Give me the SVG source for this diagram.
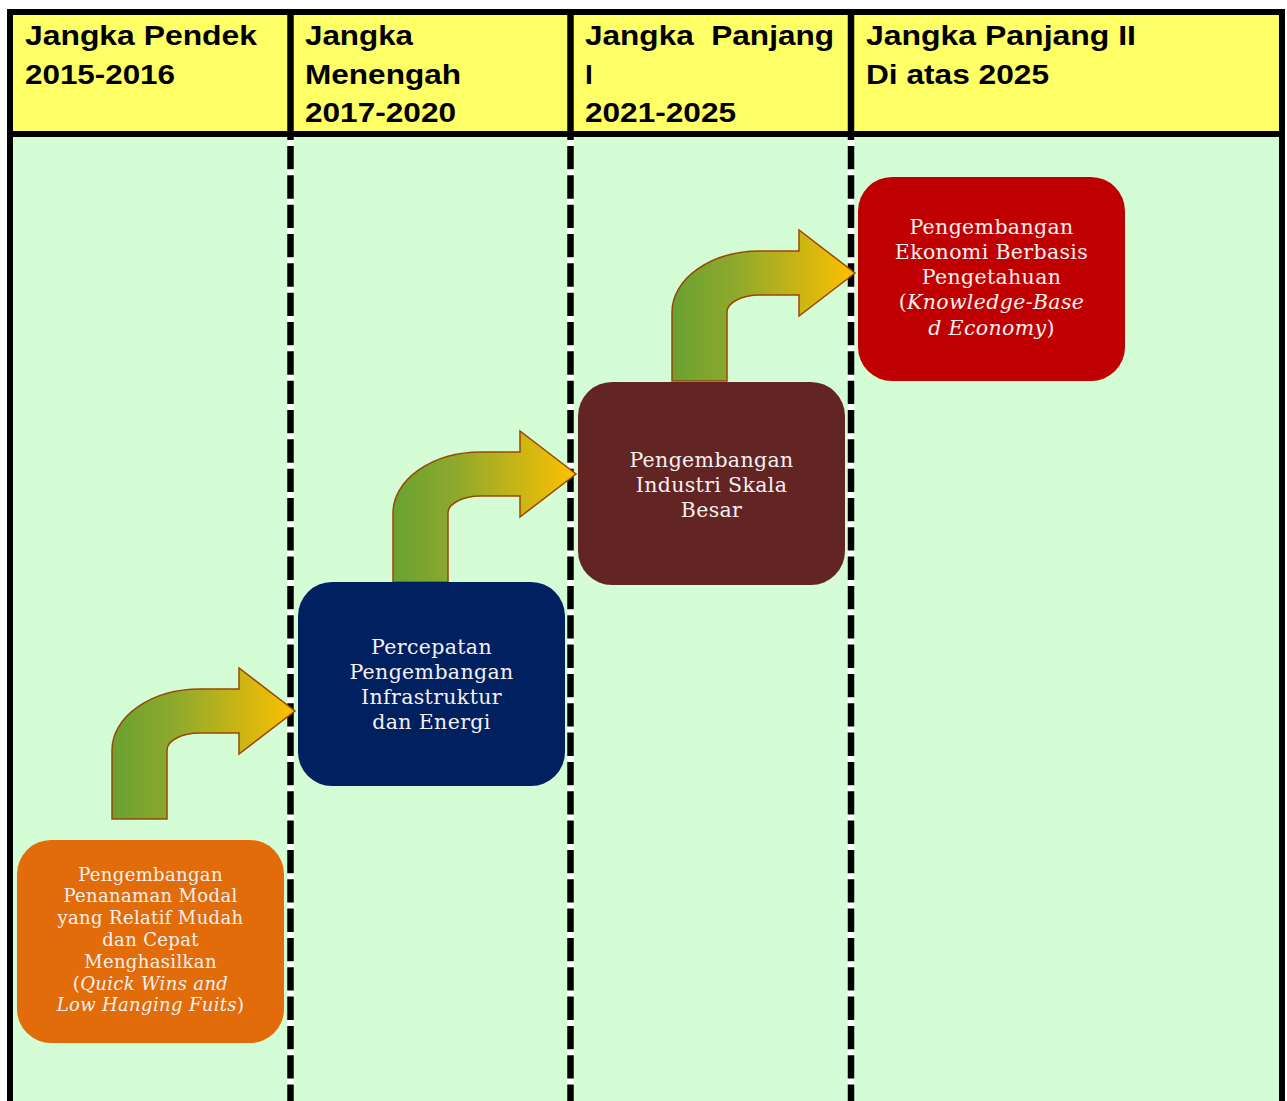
<svg xmlns="http://www.w3.org/2000/svg" width="1287" height="1101" viewBox="0 0 1287 1101">
  <style>
    .hdr { font-family: "Liberation Sans", Arial, sans-serif; font-weight: bold; font-size: 28px; fill: #000000; }
    .box1 { font-family: "DejaVu Serif", "Liberation Serif", serif; font-size: 18px; letter-spacing: 0.35px; fill: #F4F0F0; text-anchor: middle; }
    .box { font-family: "DejaVu Serif", "Liberation Serif", serif; font-size: 20.5px; letter-spacing: 0.35px; fill: #F4F0F0; text-anchor: middle; }
    .it { font-style: italic; }
    .frame { stroke: #000000; stroke-width: 6; fill: none; }
    .divsolid { stroke: #000000; stroke-width: 6.5; }
    .divbg { stroke: #FFFFFF; stroke-width: 6.5; }
    .divdash { stroke: #000000; stroke-width: 6.5; stroke-dasharray: 23.33 6; }
    .arrow { fill: url(#arrowGrad); stroke: #984807; stroke-width: 1.5; stroke-linejoin: miter; }
  </style>
  <defs>
    <linearGradient id="arrowGrad" x1="0" y1="0" x2="1" y2="0">
      <stop offset="0" stop-color="#6AA131"/>
      <stop offset="0.35" stop-color="#8FA92C"/>
      <stop offset="1" stop-color="#FFC000"/>
    </linearGradient>
    <path id="bentArrow" d="M0,151 V82 A88 61 0 0 1 88,21 H127 V0 L183,43 L127,86 V65 H88 A33 17 0 0 0 55,82 V151 Z"/>
  </defs>

  <!-- background -->
  <rect x="0" y="0" width="1287" height="1101" fill="#FFFFFF"/>
  <rect x="10" y="134" width="1272" height="967" fill="#D5FDD5"/>
  <rect x="10" y="12" width="1272" height="122" fill="#FFFF66"/>

  <!-- column dividers -->
  <g id="dividers">
    <line class="divbg" x1="290.5" y1="137" x2="290.5" y2="1101"/>
    <line class="divbg" x1="570.5" y1="137" x2="570.5" y2="1101"/>
    <line class="divbg" x1="851" y1="137" x2="851" y2="1101"/>
    <line class="divdash" x1="290.5" y1="146" x2="290.5" y2="1101"/>
    <line class="divdash" x1="570.5" y1="146" x2="570.5" y2="1101"/>
    <line class="divdash" x1="851" y1="146" x2="851" y2="1101"/>
    <line class="divsolid" x1="290.5" y1="12" x2="290.5" y2="140"/>
    <line class="divsolid" x1="570.5" y1="12" x2="570.5" y2="140"/>
    <line class="divsolid" x1="851" y1="12" x2="851" y2="140"/>
  </g>

  <!-- frame -->
  <g id="frame">
    <line class="frame" x1="7" y1="12" x2="1285" y2="12"/>
    <line class="frame" x1="7" y1="134" x2="1285" y2="134"/>
    <line class="frame" x1="10" y1="9" x2="10" y2="1101"/>
    <line class="frame" x1="1282" y1="9" x2="1282" y2="1101"/>
  </g>

  <!-- headers -->
  <g id="header-1">
    <text class="hdr" x="25" y="45" textLength="232" lengthAdjust="spacingAndGlyphs">Jangka Pendek</text>
    <text class="hdr" x="25" y="83.5" textLength="150" lengthAdjust="spacingAndGlyphs">2015-2016</text>
  </g>
  <g id="header-2">
    <text class="hdr" x="305" y="45" textLength="108" lengthAdjust="spacingAndGlyphs">Jangka</text>
    <text class="hdr" x="305" y="83.5" textLength="156" lengthAdjust="spacingAndGlyphs">Menengah</text>
    <text class="hdr" x="305" y="122" textLength="151" lengthAdjust="spacingAndGlyphs">2017-2020</text>
  </g>
  <g id="header-3">
    <text class="hdr" x="585" y="45" textLength="249" lengthAdjust="spacingAndGlyphs" xml:space="preserve">Jangka  Panjang</text>
    <text class="hdr" x="585" y="83.5">I</text>
    <text class="hdr" x="585" y="122" textLength="151" lengthAdjust="spacingAndGlyphs">2021-2025</text>
  </g>
  <g id="header-4">
    <text class="hdr" x="866" y="45" textLength="270" lengthAdjust="spacingAndGlyphs">Jangka Panjang II</text>
    <text class="hdr" x="866" y="83.5" textLength="183" lengthAdjust="spacingAndGlyphs">Di atas 2025</text>
  </g>

  <!-- connectors -->
  <g id="connectors">
    <use href="#bentArrow" class="arrow" transform="translate(112,668)"/>
    <use href="#bentArrow" class="arrow" transform="translate(393,431)"/>
    <use href="#bentArrow" class="arrow" transform="translate(672,230)"/>
  </g>

  <!-- nodes -->
  <g id="node-jangka-pendek">
    <rect x="17" y="840" width="267" height="203" rx="34" ry="34" fill="#E36C0A"/>
    <text class="box1" x="150.5" y="880.5">Pengembangan</text>
    <text class="box1" x="150.5" y="902.3">Penanaman Modal</text>
    <text class="box1" x="150.5" y="924.1">yang Relatif Mudah</text>
    <text class="box1" x="150.5" y="945.9">dan Cepat</text>
    <text class="box1" x="150.5" y="967.7">Menghasilkan</text>
    <text class="box1" x="150.5" y="989.5">(<tspan class="it">Quick Wins and</tspan></text>
    <text class="box1" x="150.5" y="1011.3"><tspan class="it">Low Hanging Fuits</tspan>)</text>
  </g>
  <g id="node-jangka-menengah">
    <rect x="298" y="582" width="267" height="204" rx="34" ry="34" fill="#002060"/>
    <text class="box" x="431.5" y="654">Percepatan</text>
    <text class="box" x="431.5" y="679">Pengembangan</text>
    <text class="box" x="431.5" y="704">Infrastruktur</text>
    <text class="box" x="431.5" y="729">dan Energi</text>
  </g>
  <g id="node-jangka-panjang-1">
    <rect x="578" y="382" width="267" height="203" rx="34" ry="34" fill="#632523"/>
    <text class="box" x="711.5" y="466.5">Pengembangan</text>
    <text class="box" x="711.5" y="491.5">Industri Skala</text>
    <text class="box" x="711.5" y="516.5">Besar</text>
  </g>
  <g id="node-jangka-panjang-2">
    <rect x="858" y="177" width="267" height="204" rx="34" ry="34" fill="#C00000"/>
    <text class="box" x="991.5" y="234">Pengembangan</text>
    <text class="box" x="991.5" y="259.2">Ekonomi Berbasis</text>
    <text class="box" x="991.5" y="284.3">Pengetahuan</text>
    <text class="box" x="991.5" y="309.4">(<tspan class="it">Knowledge-Base</tspan></text>
    <text class="box" x="991.5" y="334.5"><tspan class="it">d Economy</tspan>)</text>
  </g>
</svg>
